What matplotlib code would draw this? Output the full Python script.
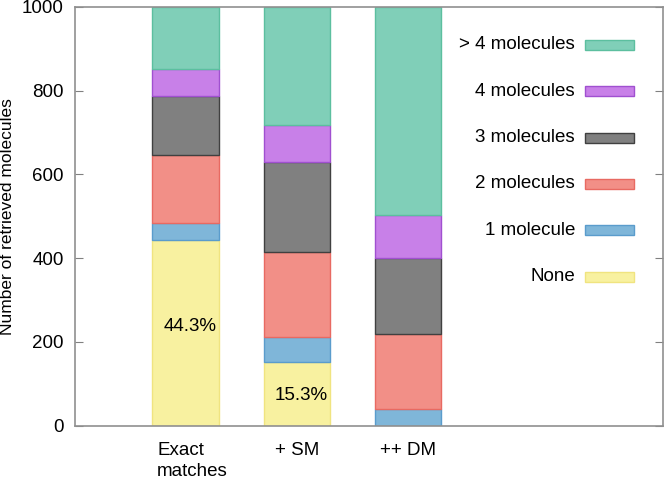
import matplotlib
matplotlib.use("Agg")
import matplotlib.pyplot as plt
from matplotlib.patches import Rectangle
import numpy as np

plt.rcParams['font.family'] = ['Liberation Sans', 'DejaVu Sans']

categories = ["Exact\nmatches", "+ SM", "++ DM"]
series_names = ["None", "1 molecule", "2 molecules", "3 molecules", "4 molecules", "> 4 molecules"]
none_vals = [443, 153, 0]
one_vals = [40, 58, 40]
two_vals = [162, 203, 180]
three_vals = [143, 215, 181]
four_vals = [64, 88, 101]
more_vals = [148, 283, 498]
series_vals = [none_vals, one_vals, two_vals, three_vals, four_vals, more_vals]

face_colors = ["#f8f1a0", "#7fb6d9", "#f28f87", "#808080", "#c880e8", "#80cfb8"]
edge_colors = ["#f0e480", "#5a9ccc", "#e86a62", "#404040", "#a050d0", "#5cbf9f"]

fig = plt.figure(figsize=(6.64, 4.79), dpi=100)
ax = fig.add_axes([0.1125, 0.1113, 0.8865, 0.8747])

x = np.arange(1, len(categories) + 1)
bottom = np.zeros(len(categories))
for vals, fc, ec in zip(series_vals, face_colors, edge_colors):
    v = np.array(vals, dtype=float)
    ax.bar(x, v, width=0.6, bottom=bottom, color=fc, edgecolor=ec, linewidth=1.0)
    bottom += v

# percentage labels for None
total = 1000.0
for xi, v, ty in zip(x[:2], none_vals[:2], [236, 72]):
    ax.text(xi + 0.04, ty, f"{v / total * 100:.1f}%", ha='center', va='center', fontsize=13.5)

ax.set_xlim(0, 5.3)
ax.set_ylim(0, 1000)
ax.set_yticks([0, 200, 400, 600, 800, 1000])
ax.tick_params(axis='y', direction='in', length=5.5, width=0.8, color='#808080',
               labelsize=13.5, pad=8, right=True)
ax.set_xticks([])
for sp in ax.spines.values():
    sp.set_color('#909090')
    sp.set_linewidth(1.2)

# category labels
x_offsets = [0.06, 0.0, 0.0]
for xi, lab, off in zip(x, categories, x_offsets):
    ax.text(xi + off, -0.038, lab, transform=ax.get_xaxis_transform(), ha='center', va='top',
            multialignment='left', fontsize=13.5, linespacing=1.3)

ax.set_ylabel("Number of retrieved molecules", fontsize=12.5, labelpad=5)

# legend (gnuplot style: text then sample), top entry first
for i, idx in enumerate(range(len(series_names) - 1, -1, -1)):
    yy = 0.909 - i * 0.1107
    ax.text(0.850, yy, series_names[idx], transform=ax.transAxes, ha='right', va='center', fontsize=13.5)
    ax.add_patch(Rectangle((0.867, yy - 0.012), 0.083, 0.024, transform=ax.transAxes,
                           facecolor=face_colors[idx], edgecolor=edge_colors[idx], linewidth=1.0))

fig.savefig("out.png", dpi=100)
